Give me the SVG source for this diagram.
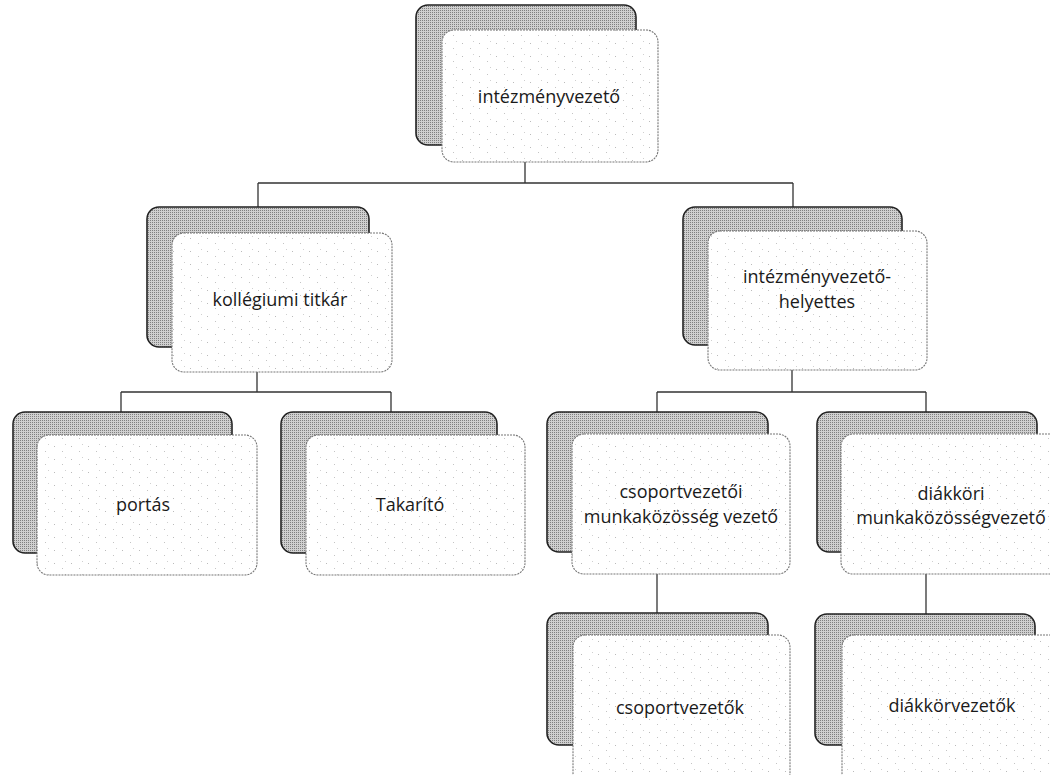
<svg xmlns="http://www.w3.org/2000/svg" width="1050" height="775" viewBox="0 0 1050 775">
  <defs>
    <pattern id="halftone" width="2" height="2" patternUnits="userSpaceOnUse">
      <rect width="2" height="2" fill="#d0d0d0"/>
      <rect x="0" y="0" width="1" height="1" fill="#808080"/>
    </pattern>
    <pattern id="speckle" width="17" height="13" patternUnits="userSpaceOnUse">
      <rect width="17" height="13" fill="#ffffff"/>
      <rect x="3" y="4" width="1" height="1" fill="#bbb"/>
      <rect x="11" y="9" width="1" height="1" fill="#c4c4c4"/>
      <rect x="14" y="2" width="1" height="1" fill="#d0d0d0"/>
    </pattern>
    <style>
      .back { fill: url(#halftone); stroke: #222; stroke-width: 1.6; }
      .front { fill: url(#speckle); stroke: #777; stroke-width: 1.1; stroke-dasharray: 2 1; }
      .lbl { font-family: "Open Sans", "Liberation Sans", sans-serif; font-size: 18px; font-weight: 500; fill: #1a1a1a; text-anchor: middle; }
      .conn { fill: none; stroke: #333; stroke-width: 1.3; }
    </style>
  </defs>

  <g id="connectors">
    <path class="conn" d="M525 162 V183 M258 183 H793 M258 183 V207 M793 183 V207"/>
    <path class="conn" d="M257 372 V392 M121 392 H391 M121 392 V412 M391 392 V414"/>
    <path class="conn" d="M792 370 V392 M657 392 H926 M657 392 V412 M926 392 V412"/>
    <path class="conn" d="M657 574 V613"/>
    <path class="conn" d="M926 574 V614"/>
  </g>

  <g id="node-intezmenyvezeto">
    <rect class="back" x="416" y="5" width="220" height="140" rx="12"/>
    <rect class="front" x="442" y="30" width="216" height="132" rx="12"/>
    <text class="lbl" x="549" y="103">intézményvezető</text>
  </g>

  <g id="node-kollegiumi-titkar">
    <rect class="back" x="147" y="207" width="222" height="140" rx="12"/>
    <rect class="front" x="172" y="233" width="220" height="139" rx="12"/>
    <text class="lbl" x="280" y="306">kollégiumi titkár</text>
  </g>

  <g id="node-helyettes">
    <rect class="back" x="683" y="207" width="219" height="138" rx="12"/>
    <rect class="front" x="708" y="231" width="219" height="139" rx="12"/>
    <text class="lbl" x="817" y="283"><tspan x="817">intézményvezető-</tspan><tspan x="817" dy="24.5">helyettes</tspan></text>
  </g>

  <g id="node-portas">
    <rect class="back" x="13" y="412" width="219" height="141" rx="12"/>
    <rect class="front" x="37" y="435" width="220" height="140" rx="12"/>
    <text class="lbl" x="143" y="511">portás</text>
  </g>

  <g id="node-takarito">
    <rect class="back" x="281" y="412" width="216" height="141" rx="12"/>
    <rect class="front" x="306" y="435" width="219" height="140" rx="12"/>
    <text class="lbl" x="410" y="511">Takarító</text>
  </g>

  <g id="node-csoportvezetoi-mk">
    <rect class="back" x="547" y="412" width="221" height="140" rx="12"/>
    <rect class="front" x="572" y="434" width="218" height="140" rx="12"/>
    <text class="lbl" x="681" y="498"><tspan x="681">csoportvezetői</tspan><tspan x="681" dy="24.5">munkaközösség vezető</tspan></text>
  </g>

  <g id="node-diakkori-mk">
    <rect class="back" x="817" y="412" width="220" height="140" rx="12"/>
    <rect class="front" x="841" y="434" width="220" height="140" rx="12"/>
    <text class="lbl" x="951" y="499.5"><tspan x="951">diákköri</tspan><tspan x="951" dy="24.5">munkaközösségvezető</tspan></text>
  </g>

  <g id="node-csoportvezetok">
    <rect class="back" x="547" y="613" width="221" height="132" rx="12"/>
    <rect class="front" x="573" y="635" width="217" height="150" rx="12"/>
    <text class="lbl" x="680" y="714">csoportvezetők</text>
  </g>

  <g id="node-diakkorvezetok">
    <rect class="back" x="815" y="614" width="220" height="131" rx="12"/>
    <rect class="front" x="842" y="635" width="220" height="150" rx="12"/>
    <text class="lbl" x="952" y="712">diákkörvezetők</text>
  </g>
</svg>
